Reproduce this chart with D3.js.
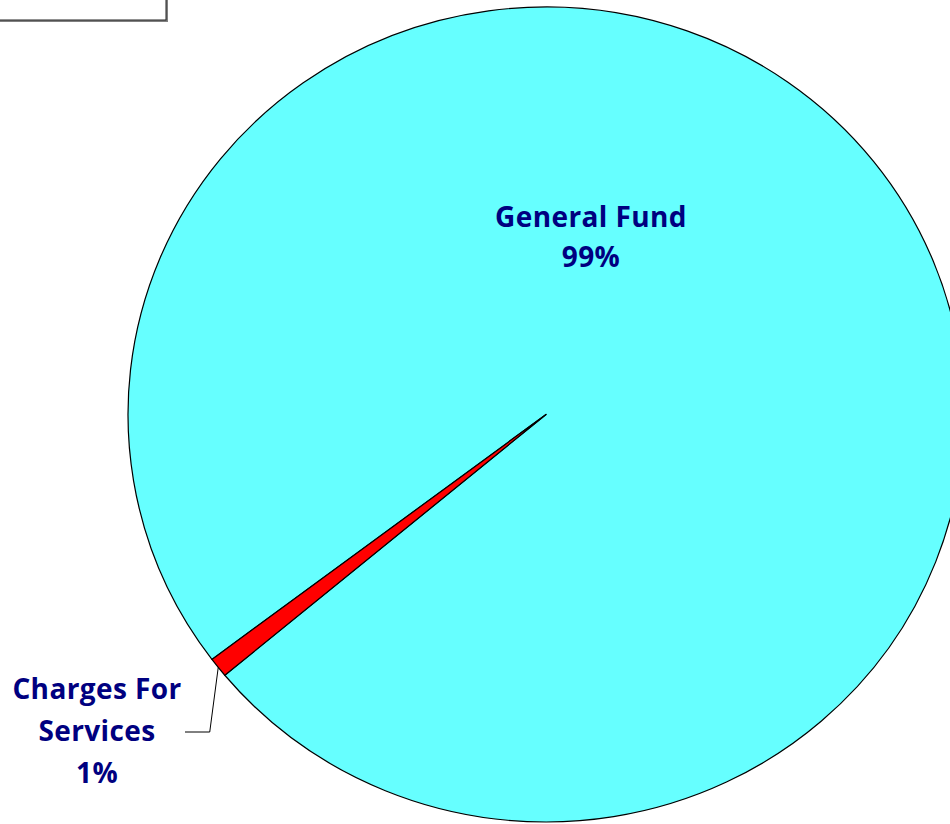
<!DOCTYPE html>
<html>
<head>
<meta charset="utf-8">
<script src="https://cdn.jsdelivr.net/npm/d3@7/dist/d3.min.js"></script>
<style>
  html, body { margin: 0; padding: 0; background: #ffffff; }
  svg { display: block; }
  .lbl { font-family: "Open Sans", Arial, sans-serif; font-weight: 700; font-size: 28px; letter-spacing: 0.4px; fill: #000080; }
</style>
</head>
<body>
<svg id="chart" width="950" height="824"></svg>
<script>
const categories = ["General Fund", "Charges For Services"];
const values = [99.21, 0.79];
const percentLabels = ["99%", "1%"];
const colors = ["#66ffff", "#ff0000"];

const width = 950, height = 824;
const cx = 546, cy = 414.5;
const rx = 418, ry = 407.5;
const firstSliceAngle = 233.06; // degrees, clockwise from top

const svg = d3.select("#chart");

// legend-ish box clipped at top-left corner
svg.append("rect")
  .attr("x", -20).attr("y", -20)
  .attr("width", 188).attr("height", 42)
  .attr("fill", "#808080");
svg.append("rect")
  .attr("x", -20).attr("y", -20)
  .attr("width", 186).attr("height", 40)
  .attr("fill", "#ffffff")
  .attr("stroke", "#222")
  .attr("stroke-width", 1);

const pie = d3.pie()
  .sort(null)
  .startAngle(firstSliceAngle * Math.PI / 180)
  .endAngle((firstSliceAngle + 360) * Math.PI / 180);

const arcs = pie(values);

const arc = d3.arc().innerRadius(0).outerRadius(rx);

const g = svg.append("g")
  .attr("transform", `translate(${cx},${cy}) scale(1,${ry / rx})`);

g.selectAll("path")
  .data(arcs)
  .enter()
  .append("path")
  .attr("d", arc)
  .attr("fill", (d, i) => colors[i])
  .attr("stroke", "#000")
  .attr("stroke-width", 1.2)
  .attr("stroke-linejoin", "round")
  .attr("vector-effect", "non-scaling-stroke");

// point on ellipse edge for a given angle
function edgePoint(a, rOff) {
  return [cx + Math.sin(a) * (rx + rOff), cy - Math.cos(a) * (ry + rOff * ry / rx)];
}

// General Fund label (inside)
const gfLabel = [591, 227];
const t0 = svg.append("text").attr("class", "lbl").attr("text-anchor", "middle");
t0.append("tspan").attr("x", gfLabel[0]).attr("y", gfLabel[1]).text(categories[0]);
t0.append("tspan").attr("x", gfLabel[0]).attr("y", gfLabel[1] + 40).text(percentLabels[0]);

// Charges For Services label with leader line
const small = arcs[1];
const mid = (small.startAngle + small.endAngle) / 2;
const p0 = edgePoint(mid, 0);
const elbow = [p0[0] - 8.5, 732];
const p2 = [185, 732];
svg.append("polyline")
  .attr("points", [p0, elbow, p2].map(p => p.join(",")).join(" "))
  .attr("fill", "none")
  .attr("stroke", "#000")
  .attr("stroke-width", 1);

const cfLabel = [97, 699];
const t1 = svg.append("text").attr("class", "lbl").attr("text-anchor", "middle");
t1.append("tspan").attr("x", cfLabel[0]).attr("y", cfLabel[1]).text("Charges For");
t1.append("tspan").attr("x", cfLabel[0]).attr("y", cfLabel[1] + 42).text("Services");
t1.append("tspan").attr("x", cfLabel[0]).attr("y", cfLabel[1] + 84).text(percentLabels[1]);
</script>
</body>
</html>
